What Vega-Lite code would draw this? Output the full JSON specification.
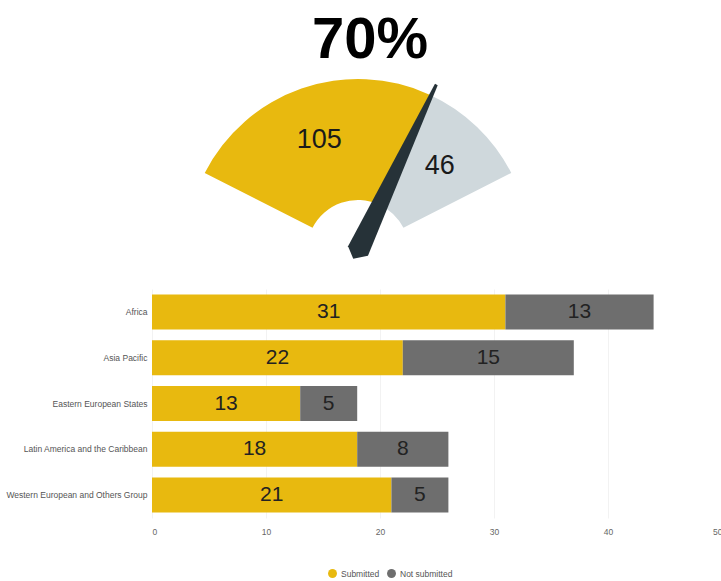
{
  "$schema": "https://vega.github.io/schema/vega-lite/v6.json",
  "background": "white",
  "padding": {"left": 5, "top": 12, "right": 0, "bottom": 0},
  "bounds": "flush",
  "spacing": 18,
  "config": {"view": {"stroke": null}, "font": "Liberation Sans"},
  "resolve": {"scale": {"color": "independent", "theta": "independent", "x": "independent", "y": "independent"}, "legend": {"color": "independent"}},
  "vconcat": [
    {
      "width": 412,
      "height": 40,
      "layer": [
        {
          "data": {"values": [{"status": "Submitted", "count": 105}, {"status": "Not submitted", "count": 46}]},
          "mark": {"type": "arc", "radius": 172, "radius2": 51},
          "encoding": {
            "theta": {"field": "count", "type": "quantitative", "stack": true, "scale": {"range": [-1.0996, 1.0996]}},
            "color": {"field": "status", "type": "nominal", "scale": {"domain": ["Submitted", "Not submitted"], "range": ["#E8B90F", "#CFD8DC"]}, "legend": null},
            "order": {"field": "status", "sort": "descending"}
          }
        },
        {
          "data": {"values": [{"status": "Submitted", "count": 105}, {"status": "Not submitted", "count": 46}]},
          "mark": {"type": "text", "radius": 118, "fontSize": 27, "color": "#1a1a1a"},
          "encoding": {
            "theta": {"field": "count", "type": "quantitative", "stack": true, "scale": {"range": [-1.0996, 1.0996]}},
            "order": {"field": "status", "sort": "descending"},
            "text": {"field": "count", "type": "quantitative"}
          }
        },
        {
          "data": {"values": [{"pct": 70}]},
          "mark": {"type": "point", "shape": "M-0.055,0 L-0.0075,-0.92 L0.0075,-0.92 L0.055,0 L-0.005,0.045 Z", "size": 160000, "filled": true, "color": "#263238", "opacity": 1, "strokeWidth": 0},
          "encoding": {
            "angle": {"field": "pct", "type": "quantitative", "scale": {"domain": [0, 100], "range": [-63, 63]}}
          }
        },
        {
          "data": {"values": [{"label": "70%"}]},
          "mark": {"type": "text", "radius": 193, "theta": 0, "baseline": "alphabetic", "dx": 12, "fontSize": 58, "fontWeight": "bold", "color": "#000"},
          "encoding": {"text": {"field": "label", "type": "nominal"}}
        }
      ]
    },
    {
      "width": 570,
      "height": 229,
      "data": {
        "values": [
          {"region": "Africa", "status": "Submitted", "count": 31},
          {"region": "Africa", "status": "Not submitted", "count": 13},
          {"region": "Asia Pacific", "status": "Submitted", "count": 22},
          {"region": "Asia Pacific", "status": "Not submitted", "count": 15},
          {"region": "Eastern European States", "status": "Submitted", "count": 13},
          {"region": "Eastern European States", "status": "Not submitted", "count": 5},
          {"region": "Latin America and the Caribbean", "status": "Submitted", "count": 18},
          {"region": "Latin America and the Caribbean", "status": "Not submitted", "count": 8},
          {"region": "Western European and Others Group", "status": "Submitted", "count": 21},
          {"region": "Western European and Others Group", "status": "Not submitted", "count": 5}
        ]
      },
      "encoding": {
        "y": {
          "field": "region", "type": "nominal", "sort": null, "title": null,
          "scale": {"paddingInner": 0.235, "paddingOuter": 0.1175},
          "axis": {"domain": false, "ticks": false, "labelFontSize": 8.5, "labelColor": "#555", "labelPadding": 5, "labelLimit": 300}
        },
        "order": {"field": "status", "sort": "descending"}
      },
      "layer": [
        {
          "mark": {"type": "bar"},
          "encoding": {
            "x": {
              "field": "count", "type": "quantitative", "stack": "zero", "title": null,
              "scale": {"domain": [0, 50]},
              "axis": {"domain": false, "ticks": false, "labelFontSize": 8.5, "labelColor": "#666", "labelPadding": 9, "gridColor": "#f2f2f2", "values": [0, 10, 20, 30, 40, 50]}
            },
            "color": {
              "field": "status", "type": "nominal",
              "scale": {"domain": ["Submitted", "Not submitted"], "range": ["#E8B90F", "#6E6E6E"]},
              "legend": {"orient": "none", "legendX": 175, "legendY": 279, "direction": "horizontal", "title": null, "symbolType": "circle", "symbolSize": 80, "labelFontSize": 8.5, "labelColor": "#555", "columnPadding": 6, "labelOffset": 3}
            }
          }
        },
        {
          "mark": {"type": "text", "fontSize": 21, "color": "#222"},
          "encoding": {
            "x": {"field": "count", "type": "quantitative", "stack": "zero", "bandPosition": 0.5},
            "text": {"field": "count", "type": "quantitative"}
          }
        }
      ]
    }
  ]
}
